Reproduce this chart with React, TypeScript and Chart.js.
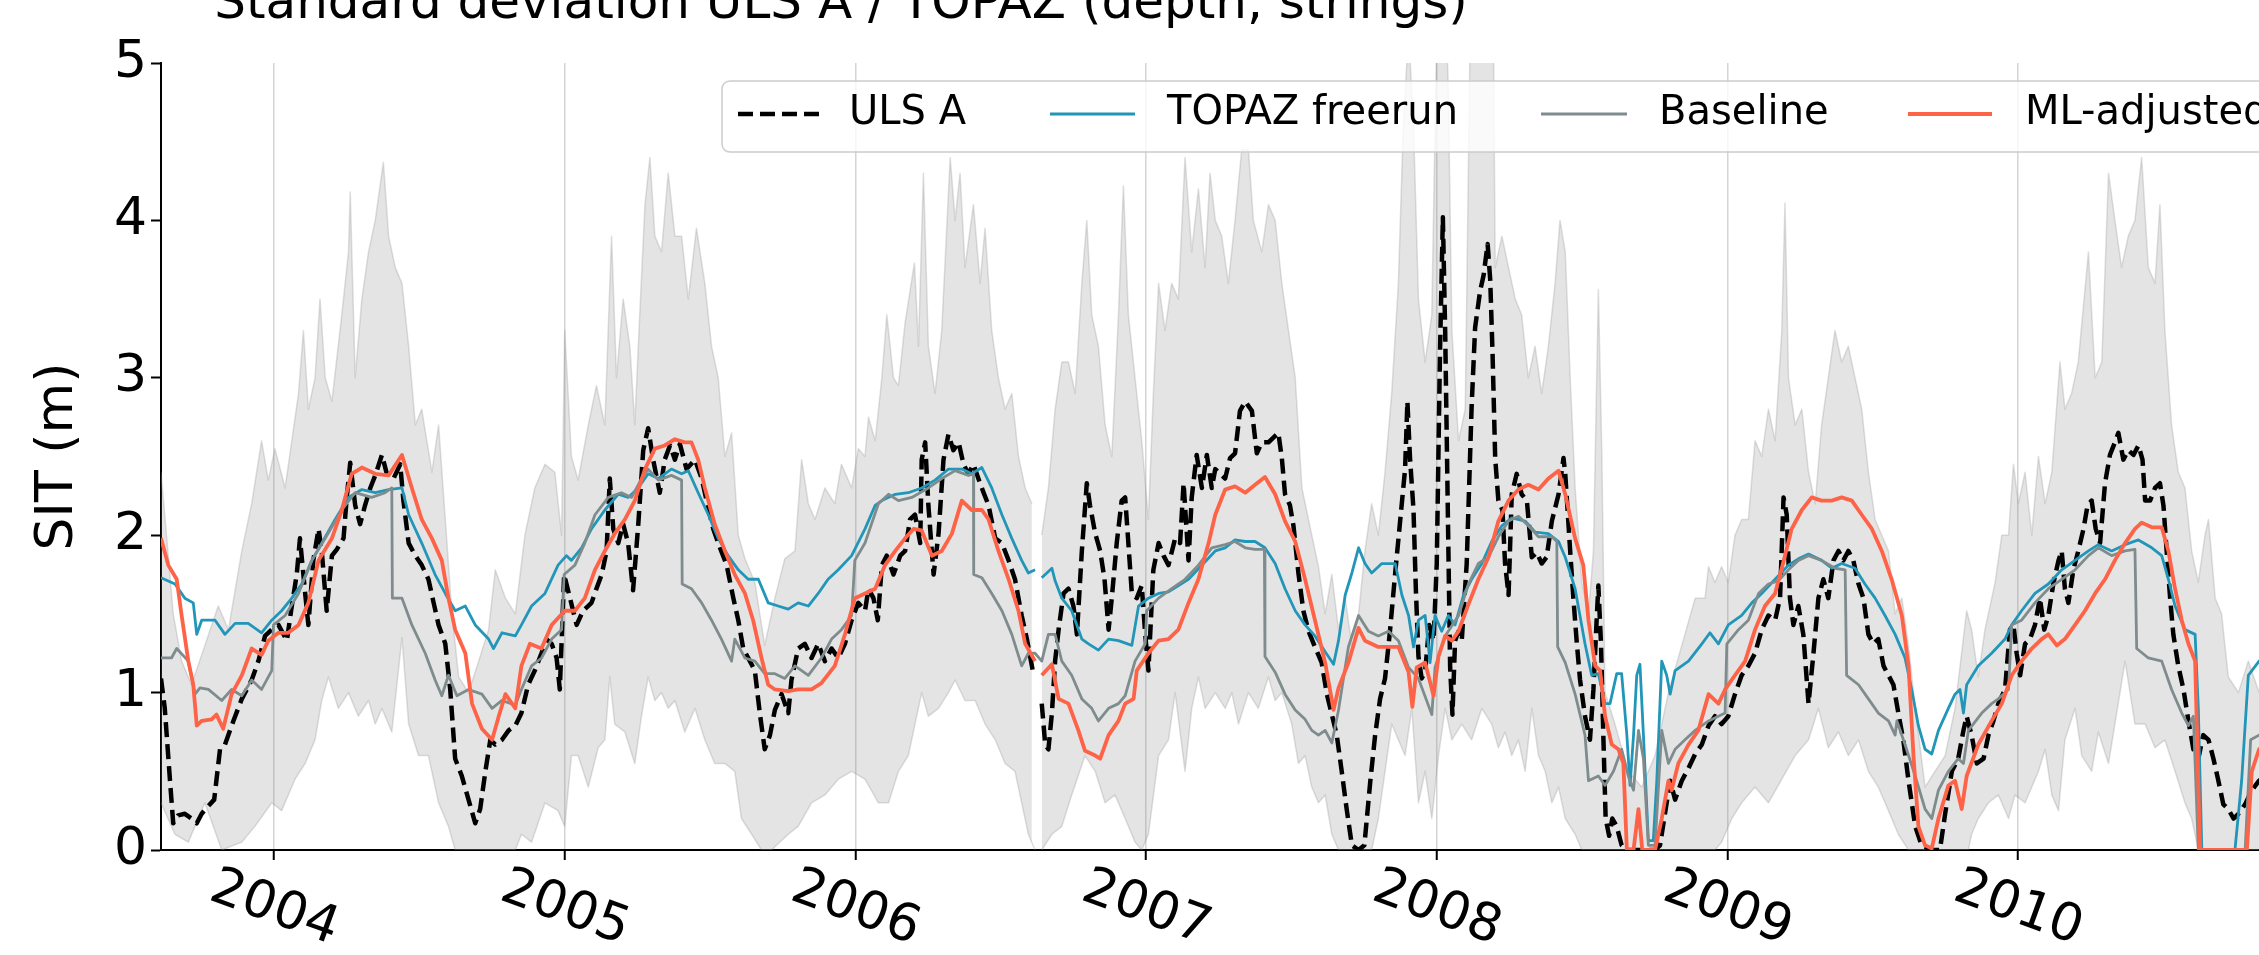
import React, { useEffect, useRef } from "react";
import { Chart, registerables } from "chart.js";

Chart.register(...registerables);

const FONT = "'DejaVu Sans', 'Liberation Sans', sans-serif";

const yearTicks = [2004, 2005, 2006, 2007, 2008, 2009, 2010];
const yTicks = [0, 1, 2, 3, 4, 5];
const legendLabels = ["ULS A", "TOPAZ freerun", "Baseline", "ML-adjusted"];
const titleText = "Standard deviation ULS A / TOPAZ (depth, strings)";

type P = [number, number | null];

const ulsA: P[] = [
  [2003.611,1.09],[2003.624,0.90],[2003.642,0.44],[2003.653,0.17],[2003.670,0.22],[2003.693,0.23],[2003.716,0.20],[2003.734,0.17],[2003.751,0.23],[2003.774,0.28],[2003.794,0.32],[2003.814,0.64],[2003.831,0.67],[2003.860,0.82],[2003.889,0.96],[2003.923,1.08],[2003.946,1.20],[2003.969,1.36],[2003.992,1.40],[2004.015,1.43],[2004.044,1.33],[2004.061,1.55],[2004.078,1.75],[2004.089,1.98],[2004.107,1.63],[2004.118,1.43],[2004.135,1.84],[2004.153,2.04],[2004.164,1.90],[2004.181,1.52],[2004.199,1.87],[2004.216,1.91],[2004.239,1.98],[2004.250,2.24],[2004.262,2.46],[2004.279,2.19],[2004.296,2.07],[2004.313,2.19],[2004.331,2.30],[2004.348,2.38],[2004.371,2.51],[2004.388,2.39],[2004.411,2.36],[2004.434,2.45],[2004.445,2.22],[2004.463,1.95],[2004.486,1.87],[2004.508,1.81],[2004.531,1.72],[2004.549,1.57],[2004.566,1.43],[2004.589,1.31],[2004.606,1.02],[2004.623,0.58],[2004.646,0.47],[2004.669,0.32],[2004.692,0.17],[2004.709,0.26],[2004.727,0.50],[2004.744,0.70],[2004.761,0.67],[2004.784,0.70],[2004.807,0.76],[2004.830,0.79],
  [2004.851,0.87],[2004.874,1.05],[2004.897,1.14],[2004.920,1.25],[2004.937,1.34],[2004.955,1.31],[2004.972,1.22],[2004.983,1.02],[2004.998,1.75],[2005.018,1.60],[2005.041,1.43],[2005.063,1.52],[2005.092,1.57],[2005.109,1.66],[2005.127,1.75],[2005.144,1.90],[2005.155,2.36],[2005.167,2.04],[2005.184,1.95],[2005.201,2.07],[2005.218,1.95],[2005.235,1.65],[2005.253,2.07],[2005.270,2.54],[2005.287,2.68],[2005.304,2.48],[2005.327,2.27],[2005.344,2.48],[2005.362,2.57],[2005.379,2.48],[2005.396,2.58],[2005.419,2.42],[2005.448,2.48],[2005.471,2.36],[2005.488,2.22],[2005.511,2.04],[2005.534,1.92],[2005.557,1.81],[2005.580,1.60],[2005.597,1.46],[2005.614,1.28],[2005.637,1.20],[2005.654,1.14],[2005.671,0.87],[2005.688,0.64],[2005.706,0.73],[2005.723,0.89],[2005.746,0.99],[2005.769,0.87],[2005.780,1.08],[2005.803,1.28],[2005.826,1.31],[2005.849,1.22],[2005.872,1.31],[2005.895,1.20],[2005.918,1.28],[2005.941,1.22],[2005.964,1.31],[2005.987,1.46],[2006.010,1.57],[2006.033,1.52],
  [2006.045,1.66],[2006.062,1.60],[2006.077,1.46],[2006.091,1.81],[2006.108,1.87],[2006.131,1.75],[2006.154,1.87],[2006.171,1.90],[2006.188,2.10],[2006.205,2.13],[2006.223,1.95],[2006.228,2.48],[2006.240,2.59],[2006.251,2.19],[2006.269,1.75],[2006.286,2.01],[2006.303,2.48],[2006.320,2.64],[2006.337,2.54],[2006.355,2.59],[2006.372,2.45],[2006.389,2.39],[2006.406,2.45],[2006.423,2.36],[2006.441,2.27],[2006.458,2.19],[2006.481,1.98],[2006.504,1.95],[2006.527,1.84],[2006.549,1.72],[2006.572,1.49],[2006.590,1.34],[2006.613,1.11],[2006.630,null],[2006.641,0.93],[2006.653,0.67],[2006.664,0.64],[2006.676,0.87],[2006.687,1.20],[2006.699,1.40],[2006.716,1.63],[2006.733,1.66],[2006.750,1.55],[2006.762,1.37],[2006.779,1.90],[2006.796,2.33],[2006.807,2.19],[2006.825,2.01],[2006.842,1.90],[2006.857,1.72],[2006.871,1.40],[2006.882,1.60],[2006.899,1.95],[2006.916,2.22],[2006.928,2.24],[2006.939,1.95],[2006.951,1.63],[2006.968,1.60],[2006.985,1.68],[2006.997,1.37],[2007.008,1.14],[2007.025,1.78],[2007.043,1.95],[2007.060,1.87],[2007.077,1.81],[2007.100,1.98],[2007.117,1.95],[2007.129,2.33],[2007.146,1.84],[2007.157,2.24],[2007.174,2.51],[2007.192,2.30],[2007.209,2.51],[2007.226,2.30],[2007.238,2.42],
  [2007.255,2.39],[2007.272,2.36],[2007.289,2.49],[2007.306,2.52],[2007.323,2.79],[2007.341,2.85],[2007.364,2.79],[2007.381,2.52],[2007.398,2.59],[2007.421,2.59],[2007.438,2.62],[2007.455,2.65],[2007.467,2.49],[2007.478,2.26],[2007.495,2.19],[2007.507,2.06],[2007.524,1.76],[2007.541,1.52],[2007.559,1.39],[2007.581,1.29],[2007.604,1.19],[2007.622,0.99],[2007.639,0.86],[2007.656,0.73],[2007.673,0.50],[2007.690,0.26],[2007.708,0.03],[2007.731,0.00],[2007.751,0.03],[2007.771,0.43],[2007.788,0.73],[2007.805,0.96],[2007.822,1.09],[2007.839,1.39],[2007.857,1.76],[2007.874,2.09],[2007.891,2.42],[2007.899,2.85],[2007.908,2.49],[2007.920,2.16],[2007.928,1.66],[2007.937,1.23],[2007.948,1.09],[2007.960,1.13],[2007.974,1.43],[2007.989,1.33],[2008.000,1.82],[2008.011,3.15],[2008.021,4.02],[2008.029,3.29],[2008.038,2.16],[2008.046,1.16],[2008.054,0.86],[2008.063,1.33],[2008.075,1.39],[2008.086,1.33],[2008.103,1.82],[2008.120,2.82],[2008.132,3.32],[2008.149,3.55],[2008.161,3.65],[2008.175,3.85],[2008.184,3.62],[2008.192,3.15],[2008.201,2.49],[2008.212,2.22],[2008.226,2.16],[2008.235,1.82],[2008.247,1.62],[2008.258,2.26],[2008.275,2.39],[2008.292,2.26],[2008.310,2.22],[2008.327,1.86],[2008.344,1.89],[2008.361,1.82],[2008.378,1.86],[2008.396,2.09],[2008.419,2.26],[2008.436,2.49],[2008.442,2.39],
  [2008.459,1.90],[2008.470,1.60],[2008.482,1.31],[2008.493,1.08],[2008.510,0.85],[2008.527,0.70],[2008.539,1.02],[2008.550,1.46],[2008.556,1.68],[2008.565,1.31],[2008.573,0.73],[2008.581,0.20],[2008.593,0.09],[2008.604,0.20],[2008.619,0.15],[2008.636,0.03],[2008.654,0.00],[2008.751,0.00],[2008.768,0.03],[2008.785,0.23],[2008.803,0.44],[2008.820,0.32],[2008.843,0.44],[2008.866,0.52],[2008.889,0.61],[2008.912,0.67],[2008.935,0.79],[2008.957,0.85],[2008.980,0.80],[2009.003,0.85],[2009.026,0.99],[2009.049,1.11],[2009.072,1.17],[2009.095,1.25],[2009.118,1.40],[2009.141,1.49],[2009.164,1.46],[2009.181,1.60],[2009.193,2.24],[2009.204,2.13],[2009.215,1.60],[2009.227,1.43],[2009.244,1.55],[2009.261,1.37],[2009.279,0.93],[2009.296,1.25],[2009.313,1.60],[2009.330,1.72],[2009.347,1.60],[2009.365,1.84],[2009.382,1.90],[2009.399,1.84],[2009.416,1.90],[2009.433,1.84],[2009.451,1.69],[2009.468,1.60],[2009.485,1.37],[2009.502,1.31],[2009.519,1.34],[2009.537,1.17],[2009.554,1.11],[2009.571,1.05],[2009.588,0.87],[2009.605,0.70],[2009.623,0.44],[2009.646,0.15],
  [2009.668,0.03],[2009.703,0.00],[2009.731,0.00],[2009.749,0.23],[2009.772,0.50],[2009.794,0.58],[2009.812,0.76],[2009.823,0.85],[2009.840,0.73],[2009.858,0.55],[2009.881,0.58],[2009.898,0.73],[2009.915,0.82],[2009.932,0.93],[2009.955,1.02],[2009.972,1.40],[2009.984,1.43],[2009.995,1.25],[2010.007,1.11],[2010.024,1.31],[2010.041,1.34],[2010.058,1.43],[2010.075,1.60],[2010.090,1.40],[2010.104,1.49],[2010.121,1.69],[2010.139,1.84],[2010.150,1.90],[2010.161,1.66],[2010.173,1.57],[2010.190,1.78],[2010.207,1.90],[2010.225,2.04],[2010.239,2.19],[2010.253,2.22],[2010.267,2.04],[2010.282,1.95],[2010.299,2.33],[2010.316,2.51],[2010.333,2.59],[2010.345,2.65],[2010.362,2.48],[2010.379,2.54],[2010.397,2.51],[2010.414,2.57],[2010.428,2.48],[2010.437,2.22],[2010.454,2.22],[2010.471,2.30],[2010.488,2.33],[2010.500,2.19],[2010.511,1.90],[2010.523,1.60],[2010.534,1.37],[2010.551,1.17],[2010.569,1.02],[2010.586,0.82],[2010.603,0.64],[2010.620,0.58],[2010.637,0.73],[2010.655,0.70],[2010.672,0.58],[2010.689,0.44],[2010.706,0.29],[2010.723,0.26],[2010.741,0.20],[2010.758,0.23],[2010.781,0.29],[2010.804,0.38],[2010.829,0.44],[2010.870,0.50],
];

const topazFreerun: P[] = [
  [2003.611,1.73],[2003.659,1.69],[2003.693,1.60],[2003.722,1.57],[2003.734,1.37],[2003.751,1.46],[2003.797,1.46],[2003.831,1.37],[2003.866,1.44],[2003.911,1.44],[2003.957,1.38],[2003.992,1.46],[2004.026,1.52],[2004.061,1.60],[2004.095,1.69],[2004.130,1.84],[2004.164,1.95],[2004.210,2.10],[2004.256,2.24],[2004.302,2.29],[2004.348,2.27],[2004.394,2.29],[2004.440,2.30],[2004.463,2.13],[2004.508,1.95],[2004.554,1.75],[2004.589,1.63],[2004.623,1.52],[2004.658,1.55],[2004.692,1.43],[2004.738,1.34],[2004.755,1.28],[2004.784,1.38],[2004.830,1.36],
  [2004.851,1.43],[2004.886,1.55],[2004.932,1.63],[2004.977,1.81],[2005.006,1.87],[2005.023,1.84],[2005.058,1.92],[2005.092,2.04],[2005.138,2.16],[2005.184,2.26],[2005.218,2.24],[2005.253,2.30],[2005.287,2.39],[2005.322,2.36],[2005.367,2.42],[2005.402,2.39],[2005.425,2.41],[2005.459,2.27],[2005.494,2.13],[2005.528,1.98],[2005.562,1.87],[2005.597,1.78],[2005.631,1.72],[2005.666,1.72],[2005.700,1.57],[2005.734,1.55],[2005.769,1.53],[2005.803,1.57],[2005.838,1.55],[2005.872,1.63],[2005.906,1.72],[2005.941,1.78],[2005.987,1.87],[2006.033,2.04],
  [2006.068,2.19],[2006.091,2.22],[2006.137,2.26],[2006.182,2.27],[2006.228,2.30],[2006.274,2.35],[2006.320,2.42],[2006.366,2.42],[2006.400,2.39],[2006.435,2.43],[2006.469,2.30],[2006.504,2.13],[2006.538,1.98],[2006.572,1.84],[2006.595,1.76],[2006.618,1.78],[2006.630,null],[2006.641,1.73],[2006.676,1.79],[2006.687,1.71],[2006.710,1.60],[2006.744,1.52],[2006.779,1.34],[2006.802,1.31],[2006.836,1.27],[2006.871,1.34],[2006.905,1.33],[2006.951,1.30],[2006.974,1.55],[2007.008,1.60],[2007.043,1.63],[2007.077,1.64],[2007.146,1.72],[2007.238,1.90],
  [2007.272,1.92],[2007.306,1.97],[2007.341,1.96],[2007.375,1.96],[2007.409,1.92],[2007.444,1.82],[2007.478,1.66],[2007.513,1.52],[2007.547,1.43],[2007.581,1.36],[2007.616,1.26],[2007.645,1.18],[2007.662,1.33],[2007.685,1.62],[2007.708,1.76],[2007.731,1.92],[2007.753,1.82],[2007.776,1.76],[2007.811,1.82],[2007.857,1.82],[2007.880,1.62],[2007.903,1.49],[2007.920,1.29],[2007.937,1.46],[2007.960,1.49],[2007.977,1.19],[2007.994,1.49],[2008.017,1.39],[2008.040,1.49],[2008.063,1.43],[2008.092,1.62],[2008.120,1.72],[2008.155,1.82],[2008.189,1.96],[2008.224,2.06],[2008.258,2.11],[2008.304,2.09],[2008.338,2.02],[2008.384,2.01],[2008.419,1.96],[2008.442,1.86],
  [2008.476,1.66],[2008.510,1.31],[2008.533,1.11],[2008.556,1.12],[2008.579,0.93],[2008.596,0.93],[2008.619,1.12],[2008.636,1.12],[2008.654,0.73],[2008.665,0.41],[2008.677,0.73],[2008.688,1.11],[2008.699,1.18],[2008.711,0.73],[2008.728,0.06],[2008.745,0.06],[2008.757,0.44],[2008.774,1.20],[2008.791,1.11],[2008.803,0.99],[2008.820,1.14],[2008.866,1.20],[2008.912,1.31],[2008.940,1.38],[2008.969,1.31],[2009.003,1.43],[2009.049,1.49],[2009.084,1.57],[2009.118,1.63],[2009.164,1.72],[2009.210,1.81],[2009.244,1.85],[2009.279,1.88],[2009.324,1.84],[2009.359,1.79],[2009.393,1.82],[2009.439,1.79],[2009.473,1.69],[2009.508,1.60],[2009.542,1.49],[2009.577,1.37],[2009.611,1.22],[2009.634,1.02],[2009.657,0.79],
  [2009.680,0.64],[2009.703,0.61],[2009.726,0.76],[2009.760,0.90],[2009.783,0.99],[2009.800,1.02],[2009.812,0.87],[2009.823,1.05],[2009.863,1.17],[2009.909,1.25],[2009.955,1.34],[2009.978,1.43],[2010.012,1.52],[2010.058,1.63],[2010.104,1.69],[2010.150,1.78],[2010.196,1.84],[2010.242,1.90],[2010.276,1.94],[2010.322,1.90],[2010.368,1.94],[2010.414,1.97],[2010.460,1.92],[2010.494,1.87],[2010.517,1.72],[2010.540,1.55],[2010.574,1.40],[2010.609,1.37],[2010.620,0.90],[2010.632,0.00],[2010.746,0.00],[2010.769,0.44],[2010.792,1.11],[2010.829,1.20],[2010.870,1.25],
];

const baseline: P[] = [
  [2003.611,1.22],[2003.647,1.22],[2003.665,1.28],[2003.705,1.20],[2003.728,0.99],[2003.745,1.03],[2003.774,1.02],[2003.820,0.95],[2003.854,1.02],[2003.889,0.98],[2003.923,1.08],[2003.957,1.02],[2003.992,1.14],[2003.998,1.43],[2004.038,1.49],[2004.084,1.63],[2004.130,1.84],[2004.176,1.98],[2004.233,2.16],[2004.279,2.27],[2004.336,2.24],[2004.382,2.27],[2004.405,2.30],[2004.407,1.60],[2004.440,1.60],[2004.474,1.43],[2004.520,1.25],[2004.554,1.08],[2004.577,0.98],[2004.600,1.11],[2004.629,0.98],[2004.669,1.02],[2004.715,0.99],[2004.750,0.90],[2004.784,0.95],[2004.830,0.92],
  [2004.851,1.02],[2004.886,1.17],[2004.920,1.22],[2004.955,1.34],[2004.989,1.40],[2004.998,1.75],[2005.035,1.81],[2005.069,1.95],[2005.104,2.13],[2005.150,2.24],[2005.195,2.27],[2005.230,2.24],[2005.264,2.36],[2005.287,2.42],[2005.322,2.35],[2005.367,2.38],[2005.402,2.35],[2005.404,1.69],[2005.436,1.66],[2005.471,1.57],[2005.505,1.46],[2005.539,1.34],[2005.574,1.20],[2005.585,1.34],[2005.620,1.22],[2005.654,1.20],[2005.688,1.12],[2005.723,1.12],[2005.757,1.09],[2005.792,1.17],[2005.838,1.11],[2005.883,1.22],[2005.918,1.34],[2005.952,1.40],[2005.987,1.49],[2005.998,1.84],[2006.033,1.95],
  [2006.079,2.20],[2006.114,2.26],[2006.148,2.22],[2006.194,2.24],[2006.251,2.30],[2006.297,2.36],[2006.343,2.41],[2006.389,2.38],[2006.406,2.39],[2006.407,1.75],[2006.435,1.73],[2006.469,1.63],[2006.504,1.52],[2006.538,1.37],[2006.572,1.17],[2006.595,1.25],[2006.618,1.25],[2006.641,1.20],[2006.664,1.37],[2006.687,1.37],[2006.710,1.20],[2006.744,1.11],[2006.779,0.96],[2006.813,0.90],[2006.836,0.82],[2006.871,0.90],[2006.905,0.93],[2006.928,0.98],[2006.962,1.20],[2006.997,1.31],[2007.002,1.52],[2007.043,1.60],[2007.088,1.66],[2007.134,1.72],[2007.180,1.81],[2007.226,1.92],
  [2007.272,1.94],[2007.306,1.96],[2007.341,1.92],[2007.375,1.91],[2007.407,1.91],[2007.409,1.23],[2007.444,1.13],[2007.478,0.99],[2007.513,0.89],[2007.547,0.83],[2007.570,0.76],[2007.593,0.73],[2007.616,0.76],[2007.639,0.68],[2007.662,0.89],[2007.696,1.29],[2007.731,1.49],[2007.765,1.39],[2007.799,1.36],[2007.834,1.39],[2007.868,1.33],[2007.903,1.16],[2007.937,1.09],[2007.983,0.86],[2007.994,1.16],[2008.029,1.36],[2008.075,1.49],[2008.109,1.69],[2008.143,1.82],[2008.178,1.86],[2008.212,1.99],[2008.247,2.09],[2008.281,2.12],[2008.315,2.06],[2008.350,1.99],[2008.396,1.99],[2008.413,1.96],[2008.416,1.29],[2008.442,1.19],
  [2008.476,0.99],[2008.510,0.73],[2008.522,0.44],[2008.556,0.47],[2008.579,0.41],[2008.608,0.50],[2008.636,0.64],[2008.659,0.47],[2008.677,0.38],[2008.694,0.76],[2008.711,0.58],[2008.728,0.03],[2008.751,0.03],[2008.774,0.76],[2008.797,0.55],[2008.820,0.64],[2008.854,0.70],[2008.889,0.76],[2008.935,0.82],[2008.992,0.87],[2008.998,1.31],[2009.038,1.40],[2009.072,1.46],[2009.107,1.63],[2009.141,1.69],[2009.175,1.71],[2009.210,1.78],[2009.244,1.84],[2009.279,1.87],[2009.324,1.84],[2009.370,1.79],[2009.405,1.78],[2009.410,1.11],[2009.451,1.05],[2009.485,0.96],[2009.519,0.87],[2009.554,0.82],[2009.577,0.73],[2009.583,0.82],[2009.611,0.67],[2009.646,0.47],
  [2009.680,0.26],[2009.703,0.20],[2009.726,0.38],[2009.760,0.50],[2009.794,0.58],[2009.812,0.55],[2009.829,0.76],[2009.875,0.87],[2009.909,0.93],[2009.932,0.96],[2009.967,1.02],[2009.978,1.43],[2010.012,1.46],[2010.058,1.57],[2010.104,1.66],[2010.150,1.72],[2010.196,1.78],[2010.242,1.87],[2010.276,1.92],[2010.322,1.87],[2010.368,1.90],[2010.402,1.91],[2010.408,1.28],[2010.448,1.22],[2010.494,1.20],[2010.528,1.02],[2010.563,0.87],[2010.586,0.79],[2010.603,0.85],[2010.620,0.00],[2010.781,0.00],[2010.800,0.70],[2010.829,0.73],[2010.870,0.75],
];

const mlAdjusted: P[] = [
  [2003.611,1.98],[2003.636,1.81],[2003.665,1.72],[2003.682,1.49],[2003.705,1.20],[2003.722,1.05],[2003.734,0.79],[2003.751,0.82],[2003.785,0.83],[2003.802,0.86],[2003.825,0.77],[2003.854,0.99],[2003.889,1.11],[2003.923,1.28],[2003.957,1.24],[2003.980,1.33],[2004.015,1.38],[2004.049,1.38],[2004.084,1.43],[2004.118,1.57],[2004.153,1.84],[2004.199,1.98],[2004.233,2.16],[2004.267,2.39],[2004.302,2.43],[2004.348,2.39],[2004.394,2.38],[2004.440,2.51],[2004.474,2.30],[2004.508,2.10],[2004.543,1.98],[2004.577,1.84],[2004.600,1.60],[2004.623,1.40],[2004.658,1.25],[2004.681,0.93],[2004.715,0.77],[2004.750,0.70],[2004.773,0.85],[2004.796,0.99],[2004.830,0.90],
  [2004.851,1.17],[2004.880,1.31],[2004.920,1.28],[2004.955,1.43],[2005.000,1.52],[2005.035,1.52],[2005.069,1.60],[2005.104,1.78],[2005.138,1.90],[2005.172,2.01],[2005.207,2.10],[2005.241,2.22],[2005.276,2.42],[2005.310,2.55],[2005.344,2.57],[2005.379,2.61],[2005.413,2.59],[2005.436,2.59],[2005.459,2.48],[2005.482,2.30],[2005.516,2.07],[2005.551,1.90],[2005.585,1.75],[2005.620,1.63],[2005.648,1.46],[2005.677,1.22],[2005.700,1.05],[2005.723,1.02],[2005.769,1.01],[2005.803,1.02],[2005.849,1.02],[2005.883,1.06],[2005.929,1.17],[2005.964,1.37],[2005.998,1.60],[2006.033,1.63],
  [2006.068,1.66],[2006.102,1.81],[2006.137,1.90],[2006.171,1.98],[2006.200,2.04],[2006.228,2.03],[2006.263,1.87],[2006.297,1.90],[2006.332,2.01],[2006.366,2.22],[2006.400,2.16],[2006.435,2.16],[2006.458,2.10],[2006.492,1.90],[2006.527,1.72],[2006.561,1.52],[2006.584,1.31],[2006.618,1.20],[2006.630,null],[2006.641,1.11],[2006.676,1.18],[2006.699,0.96],[2006.733,0.93],[2006.767,0.76],[2006.790,0.63],[2006.825,0.60],[2006.842,0.58],[2006.871,0.73],[2006.905,0.82],[2006.928,0.93],[2006.957,0.96],[2006.968,1.14],[2007.008,1.25],[2007.043,1.33],[2007.077,1.34],[2007.111,1.40],[2007.146,1.57],[2007.180,1.72],[2007.215,1.95],[2007.238,2.13],
  [2007.272,2.29],[2007.306,2.31],[2007.341,2.27],[2007.375,2.32],[2007.409,2.37],[2007.444,2.26],[2007.478,2.09],[2007.513,1.96],[2007.547,1.72],[2007.581,1.46],[2007.616,1.19],[2007.645,0.89],[2007.662,1.03],[2007.696,1.19],[2007.731,1.41],[2007.753,1.33],[2007.799,1.29],[2007.845,1.29],[2007.868,1.29],[2007.903,1.13],[2007.916,0.91],[2007.931,1.16],[2007.960,1.19],[2007.989,0.98],[2008.006,1.23],[2008.029,1.36],[2008.052,1.33],[2008.075,1.39],[2008.109,1.56],[2008.143,1.72],[2008.178,1.86],[2008.212,2.09],[2008.247,2.22],[2008.281,2.29],[2008.315,2.32],[2008.350,2.29],[2008.384,2.36],[2008.419,2.41],[2008.442,2.26],
  [2008.476,1.98],[2008.504,1.81],[2008.522,1.46],[2008.545,1.17],[2008.562,1.14],[2008.579,0.85],[2008.602,0.67],[2008.625,0.64],[2008.642,0.55],[2008.654,0.00],[2008.677,0.00],[2008.694,0.26],[2008.707,0.00],[2008.751,0.00],[2008.774,0.20],[2008.797,0.44],[2008.808,0.38],[2008.831,0.55],[2008.866,0.67],[2008.900,0.76],[2008.935,0.99],[2008.969,0.93],[2008.992,1.02],[2009.026,1.11],[2009.061,1.20],[2009.095,1.40],[2009.129,1.55],[2009.164,1.63],[2009.198,1.87],[2009.221,2.04],[2009.256,2.16],[2009.290,2.24],[2009.324,2.22],[2009.359,2.22],[2009.393,2.24],[2009.428,2.22],[2009.462,2.13],[2009.497,2.04],[2009.531,1.90],[2009.565,1.72],[2009.600,1.49],[2009.623,1.17],[2009.640,0.60],[2009.657,0.15],
  [2009.680,0.03],[2009.703,0.01],[2009.726,0.20],[2009.760,0.41],[2009.783,0.44],[2009.806,0.26],[2009.823,0.47],[2009.863,0.67],[2009.909,0.82],[2009.944,0.93],[2009.978,1.11],[2010.012,1.20],[2010.047,1.28],[2010.081,1.34],[2010.104,1.37],[2010.133,1.30],[2010.161,1.34],[2010.196,1.43],[2010.230,1.52],[2010.265,1.63],[2010.299,1.72],[2010.333,1.84],[2010.368,1.95],[2010.402,2.04],[2010.425,2.08],[2010.460,2.05],[2010.494,2.05],[2010.517,1.90],[2010.540,1.66],[2010.563,1.46],[2010.586,1.31],[2010.609,1.20],[2010.626,0.00],[2010.787,0.00],[2010.804,0.50],[2010.829,0.64],[2010.870,0.70],
];

const spreadUpper: P[] = [
  [2003.611,2.40],[2003.630,2.00],[2003.653,1.50],[2003.682,1.20],[2003.716,1.05],[2003.762,1.30],[2003.808,1.55],[2003.843,1.40],[2003.889,1.90],[2003.923,2.20],[2003.957,2.60],[2003.980,2.35],[2004.003,2.55],[2004.038,2.30],[2004.061,2.60],[2004.084,2.90],[2004.101,3.30],[2004.118,2.80],[2004.141,3.00],[2004.158,3.50],[2004.176,3.00],[2004.199,2.85],[2004.233,3.40],[2004.256,3.80],[2004.262,4.18],[2004.279,3.00],[2004.302,3.50],[2004.325,3.80],[2004.348,4.00],[2004.376,4.37],[2004.394,3.90],[2004.417,3.70],[2004.440,3.60],[2004.463,3.20],[2004.486,2.70],[2004.508,2.80],[2004.543,2.40],[2004.566,2.70],[2004.589,2.10],[2004.612,1.50],[2004.635,1.10],[2004.669,1.00],[2004.704,1.20],[2004.738,1.40],[2004.761,1.78],[2004.796,1.60],[2004.830,1.50],
  [2004.863,2.00],[2004.897,2.30],[2004.932,2.45],[2004.966,2.40],[2004.989,2.00],[2005.000,3.30],[2005.023,2.50],[2005.046,2.35],[2005.081,2.70],[2005.109,2.95],[2005.138,2.70],[2005.161,3.90],[2005.178,3.00],[2005.201,3.50],[2005.224,3.20],[2005.241,2.70],[2005.258,3.40],[2005.276,4.10],[2005.293,4.40],[2005.310,3.90],[2005.333,3.80],[2005.356,4.30],[2005.379,3.90],[2005.402,3.90],[2005.425,3.50],[2005.453,3.95],[2005.482,3.60],[2005.505,3.20],[2005.528,3.00],[2005.551,2.50],[2005.574,2.65],[2005.597,2.00],[2005.620,1.85],[2005.654,1.70],[2005.688,1.30],[2005.723,1.60],[2005.757,1.85],[2005.792,1.90],[2005.815,2.48],[2005.838,2.20],[2005.861,2.10],[2005.895,2.30],[2005.929,2.20],[2005.952,2.45],[2005.987,2.30],[2006.010,2.55],[2006.033,2.50],
  [2006.045,2.75],[2006.068,2.60],[2006.091,3.00],[2006.108,3.40],[2006.131,3.00],[2006.148,2.95],[2006.171,3.35],[2006.203,3.73],[2006.217,3.20],[2006.234,4.30],[2006.251,3.20],[2006.274,2.90],[2006.297,3.30],[2006.326,4.40],[2006.343,4.00],[2006.360,4.30],[2006.377,3.70],[2006.406,4.10],[2006.429,3.60],[2006.446,3.95],[2006.469,3.30],[2006.492,3.00],[2006.515,2.80],[2006.538,2.90],[2006.561,2.50],[2006.584,2.30],[2006.607,2.20],[2006.630,null],[2006.641,2.00],[2006.664,2.30],[2006.687,2.80],[2006.710,3.10],[2006.733,3.10],[2006.756,2.90],[2006.779,3.60],[2006.796,4.00],[2006.813,3.40],[2006.836,3.20],[2006.859,2.70],[2006.882,2.50],[2006.905,3.40],[2006.922,4.22],[2006.939,3.40],[2006.962,3.00],[2006.985,2.60],[2007.008,2.10],[2007.025,2.90],[2007.043,3.60],[2007.065,3.30],[2007.088,3.60],[2007.111,3.50],[2007.134,4.40],[2007.157,3.80],[2007.180,4.20],[2007.203,3.70],[2007.220,4.30],[2007.238,4.00],
  [2007.260,3.90],[2007.283,3.60],[2007.306,4.00],[2007.329,4.45],[2007.352,4.45],[2007.369,4.00],[2007.398,3.80],[2007.421,4.10],[2007.444,4.00],[2007.467,3.60],[2007.490,3.30],[2007.513,3.00],[2007.536,2.30],[2007.570,2.00],[2007.593,1.80],[2007.616,1.50],[2007.639,1.75],[2007.662,1.40],[2007.685,1.60],[2007.708,1.30],[2007.731,1.50],[2007.753,1.90],[2007.776,2.20],[2007.799,2.00],[2007.822,2.40],[2007.845,2.90],[2007.868,3.60],[2007.885,4.60],[2007.903,5.20],[2007.920,4.60],[2007.937,3.50],[2007.960,3.10],[2007.983,3.40],[2008.000,5.20],[2008.034,5.20],[2008.040,4.80],[2008.052,3.30],[2008.075,2.60],[2008.098,2.80],[2008.115,5.20],[2008.195,5.20],[2008.201,3.70],[2008.224,3.90],[2008.247,3.70],[2008.270,3.50],[2008.292,3.40],[2008.315,3.00],[2008.338,3.20],[2008.361,2.90],[2008.384,3.20],[2008.407,3.60],[2008.424,4.00],[2008.442,3.80],
  [2008.459,3.00],[2008.476,2.30],[2008.499,1.70],[2008.522,1.50],[2008.539,1.90],[2008.556,3.56],[2008.568,2.50],[2008.579,1.00],[2008.613,0.80],[2008.659,0.50],[2008.705,0.40],[2008.751,0.60],[2008.797,1.00],[2008.843,1.30],[2008.889,1.60],[2008.923,1.60],[2008.935,1.80],[2008.957,1.70],[2008.980,1.80],[2009.003,1.70],[2009.026,2.00],[2009.049,2.10],[2009.072,2.10],[2009.095,2.60],[2009.118,2.50],[2009.141,2.80],[2009.164,2.60],[2009.187,3.30],[2009.198,4.11],[2009.210,3.00],[2009.233,2.70],[2009.256,2.80],[2009.279,2.40],[2009.302,2.20],[2009.324,2.70],[2009.347,3.00],[2009.370,3.30],[2009.393,3.10],[2009.416,3.20],[2009.439,3.00],[2009.462,2.80],[2009.485,2.40],[2009.508,2.10],[2009.531,2.00],[2009.554,1.90],[2009.577,1.50],[2009.600,1.60],[2009.623,1.30],[2009.646,0.90],
  [2009.680,0.40],[2009.714,0.50],[2009.749,0.60],[2009.783,0.90],[2009.823,1.52],[2009.840,1.40],[2009.863,1.10],[2009.886,1.40],[2009.921,1.70],[2009.944,2.00],[2009.967,2.00],[2009.984,2.45],[2010.001,2.20],[2010.024,2.40],[2010.047,2.00],[2010.070,2.50],[2010.093,2.20],[2010.116,2.40],[2010.144,3.10],[2010.161,2.80],[2010.184,2.90],[2010.207,3.10],[2010.242,3.80],[2010.265,3.00],[2010.288,3.10],[2010.311,4.30],[2010.333,4.00],[2010.356,3.70],[2010.379,3.90],[2010.402,4.00],[2010.425,4.40],[2010.448,3.70],[2010.471,3.60],[2010.488,4.10],[2010.505,3.30],[2010.528,2.70],[2010.551,2.40],[2010.574,2.30],[2010.597,1.90],[2010.620,1.70],[2010.643,2.00],[2010.655,2.10],[2010.678,1.60],[2010.700,1.50],[2010.723,1.10],[2010.758,1.00],[2010.792,1.20],[2010.829,1.00],[2010.870,1.10],
];

const spreadLower: P[] = [
  [2003.611,0.30],[2003.659,0.10],[2003.705,0.05],[2003.762,0.30],[2003.820,0.00],[2003.889,0.05],[2003.934,0.15],[2003.992,0.30],[2004.026,0.25],[2004.072,0.45],[2004.107,0.55],[2004.141,0.70],[2004.164,0.95],[2004.187,1.10],[2004.221,0.90],[2004.256,1.00],[2004.290,0.85],[2004.325,0.95],[2004.348,0.80],[2004.371,0.90],[2004.405,0.75],[2004.440,1.35],[2004.463,0.80],[2004.497,0.60],[2004.531,0.60],[2004.566,0.30],[2004.600,0.15],[2004.623,0.00],[2004.830,0.00],
  [2004.851,0.10],[2004.886,0.05],[2004.932,0.30],[2004.977,0.25],[2005.000,0.15],[2005.023,0.60],[2005.046,0.60],[2005.081,0.40],[2005.115,0.65],[2005.138,0.70],[2005.155,1.10],[2005.172,0.80],[2005.207,0.75],[2005.241,0.55],[2005.264,0.85],[2005.287,1.10],[2005.310,0.95],[2005.333,1.00],[2005.356,0.90],[2005.379,0.95],[2005.413,0.75],[2005.448,0.90],[2005.482,0.70],[2005.516,0.55],[2005.551,0.55],[2005.585,0.50],[2005.608,0.20],[2005.643,0.10],[2005.677,0.00],[2005.711,0.00],[2005.769,0.10],[2005.803,0.15],[2005.849,0.30],[2005.895,0.35],[2005.941,0.45],[2005.987,0.50],[2006.033,0.45],
  [2006.079,0.30],[2006.114,0.30],[2006.148,0.50],[2006.182,0.60],[2006.228,1.00],[2006.251,0.85],[2006.286,0.90],[2006.320,1.00],[2006.343,1.08],[2006.377,0.95],[2006.412,0.95],[2006.446,0.80],[2006.481,0.70],[2006.515,0.55],[2006.549,0.50],[2006.572,0.30],[2006.595,0.10],[2006.618,0.00],[2006.630,null],[2006.641,0.00],[2006.676,0.10],[2006.710,0.15],[2006.744,0.35],[2006.790,0.60],[2006.825,0.50],[2006.859,0.30],[2006.893,0.35],[2006.928,0.20],[2006.962,0.05],[2006.985,0.00],[2007.008,0.10],[2007.043,0.60],[2007.077,0.70],[2007.100,1.00],[2007.134,0.50],[2007.157,0.90],[2007.180,1.10],[2007.203,0.90],[2007.238,1.00],
  [2007.272,0.90],[2007.295,1.00],[2007.318,0.80],[2007.352,1.00],[2007.386,0.90],[2007.421,1.10],[2007.444,0.95],[2007.467,1.00],[2007.501,0.80],[2007.524,0.55],[2007.547,0.60],[2007.570,0.40],[2007.593,0.30],[2007.616,0.35],[2007.639,0.10],[2007.662,0.00],[2007.776,0.00],[2007.799,0.20],[2007.822,0.50],[2007.845,0.80],[2007.868,0.70],[2007.891,0.60],[2007.914,0.90],[2007.937,0.30],[2007.960,0.50],[2007.983,0.20],[2008.006,0.60],[2008.029,0.90],[2008.052,0.70],[2008.086,0.80],[2008.120,0.70],[2008.155,0.90],[2008.189,0.80],[2008.212,0.65],[2008.235,0.75],[2008.258,0.60],[2008.281,0.70],[2008.304,0.50],[2008.327,0.90],[2008.350,0.60],[2008.373,0.50],[2008.396,0.30],[2008.419,0.40],[2008.442,0.20],
  [2008.476,0.10],[2008.499,0.00],[2008.957,0.00],[2008.980,0.05],[2009.015,0.20],[2009.049,0.30],[2009.095,0.40],[2009.141,0.30],[2009.187,0.45],[2009.233,0.60],[2009.279,0.70],[2009.313,0.90],[2009.347,0.65],[2009.382,0.75],[2009.416,0.60],[2009.451,0.70],[2009.485,0.50],[2009.519,0.40],[2009.554,0.25],[2009.588,0.10],[2009.623,0.00],
  [2009.829,0.00],[2009.840,0.10],[2009.863,0.20],[2009.898,0.30],[2009.932,0.35],[2009.967,0.20],[2009.989,0.35],[2010.024,0.30],[2010.070,0.50],[2010.093,0.64],[2010.116,0.35],[2010.139,0.25],[2010.161,0.70],[2010.196,0.90],[2010.219,0.60],[2010.253,0.50],[2010.276,0.75],[2010.311,0.55],[2010.333,0.80],[2010.368,1.20],[2010.402,0.80],[2010.437,0.80],[2010.471,0.65],[2010.505,0.70],[2010.540,0.50],[2010.574,0.30],[2010.597,0.20],[2010.620,0.00],[2010.870,0.00],
];

const COLORS = {
  uls: "#000000",
  topaz: "#2196b8",
  base: "#7f8c8d",
  ml: "#ff6347",
};

const X_MIN = 2003.611;
const X_MAX = 2010.987;

const toXY = (arr: P[]) => arr.map(([x, y]) => ({ x, y }));

function roundRectPath(ctx: CanvasRenderingContext2D, x: number, y: number, w: number, h: number, r: number) {
  ctx.beginPath();
  ctx.moveTo(x + r, y);
  ctx.lineTo(x + w - r, y);
  ctx.arcTo(x + w, y, x + w, y + r, r);
  ctx.lineTo(x + w, y + h - r);
  ctx.arcTo(x + w, y + h, x + w - r, y + h, r);
  ctx.lineTo(x + r, y + h);
  ctx.arcTo(x, y + h, x, y + h - r, r);
  ctx.lineTo(x, y + r);
  ctx.arcTo(x, y, x + r, y, r);
  ctx.closePath();
}

const overlayPlugin = {
  id: "overlay",
  afterDraw(chart: any) {
    const ctx: CanvasRenderingContext2D = chart.ctx;
    const xs = chart.scales.x;
    ctx.save();
    // rotated year labels
    ctx.fillStyle = "#000";
    ctx.font = `52px ${FONT}`;
    ctx.textAlign = "center";
    ctx.textBaseline = "middle";
    yearTicks.forEach((yr) => {
      const px = xs.getPixelForValue(yr);
      ctx.save();
      ctx.translate(px, 909);
      ctx.rotate((20 * Math.PI) / 180);
      ctx.fillText(String(yr), 0, 0);
      ctx.restore();
    });
    // title (cut off at top of the picture)
    ctx.font = `50px ${FONT}`;
    ctx.textBaseline = "alphabetic";
    ctx.fillText(titleText, 841, 18);
    // legend
    roundRectPath(ctx, 722, 81, 1563, 71, 8);
    ctx.fillStyle = "rgba(255,255,255,0.8)";
    ctx.fill();
    ctx.strokeStyle = "#cccccc";
    ctx.lineWidth = 1.5;
    ctx.stroke();
    const items = [
      { x0: 738, x1: 819, tx: 849, color: COLORS.uls, w: 4.5, dash: [15, 7] },
      { x0: 1050, x1: 1135, tx: 1167, color: COLORS.topaz, w: 3, dash: [] },
      { x0: 1541, x1: 1627, tx: 1659, color: COLORS.base, w: 3, dash: [] },
      { x0: 1908, x1: 1992, tx: 2025, color: COLORS.ml, w: 4, dash: [] },
    ];
    const ly = 114;
    items.forEach((it, i) => {
      ctx.beginPath();
      ctx.setLineDash(it.dash);
      ctx.strokeStyle = it.color;
      ctx.lineWidth = it.w;
      ctx.moveTo(it.x0, ly);
      ctx.lineTo(it.x1, ly);
      ctx.stroke();
      ctx.setLineDash([]);
      ctx.fillStyle = "#000";
      ctx.font = `40px ${FONT}`;
      ctx.textAlign = "left";
      ctx.textBaseline = "middle";
      ctx.fillText(legendLabels[i], it.tx, ly);
    });
    ctx.restore();
  },
};

export default function App() {
  const ref = useRef<HTMLCanvasElement | null>(null);
  useEffect(() => {
    const canvas = ref.current;
    if (!canvas) return;
    const lineBase = { pointRadius: 0, pointHoverRadius: 0, tension: 0, fill: false, spanGaps: false, borderJoinStyle: "round" as const };
    const chart = new Chart(canvas, {
      type: "line",
      data: {
        datasets: [
          { ...lineBase, label: legendLabels[3], data: toXY(mlAdjusted), borderColor: COLORS.ml, borderWidth: 3.8 },
          { ...lineBase, label: legendLabels[2], data: toXY(baseline), borderColor: COLORS.base, borderWidth: 2.8 },
          { ...lineBase, label: legendLabels[1], data: toXY(topazFreerun), borderColor: COLORS.topaz, borderWidth: 2.8 },
          { ...lineBase, label: legendLabels[0], data: toXY(ulsA), borderColor: COLORS.uls, borderWidth: 4.5, borderDash: [15, 7] },
          { ...lineBase, label: "spread-upper", data: toXY(spreadUpper), borderColor: "rgba(150,150,150,0.3)", borderWidth: 1.5, backgroundColor: "rgba(128,128,128,0.21)", fill: "+1" },
          { ...lineBase, label: "spread-lower", data: toXY(spreadLower), borderColor: "rgba(150,150,150,0.3)", borderWidth: 1.5 },
        ] as any,
      },
      options: {
        responsive: false,
        animation: false,
        devicePixelRatio: 1,
        events: [],
        layout: { padding: { top: 63, left: 0, right: 35, bottom: 0 }, autoPadding: false } as any,
        plugins: { legend: { display: false }, tooltip: { enabled: false }, title: { display: false } },
        scales: {
          x: {
            type: "linear",
            min: X_MIN,
            max: X_MAX,
            afterBuildTicks: (s: any) => { s.ticks = yearTicks.map((v) => ({ value: v })); },
            afterFit: (s: any) => { s.height = 105; },
            ticks: { display: false },
            grid: { display: true, drawOnChartArea: true, color: "rgba(176,176,176,0.55)", lineWidth: 1.5, drawTicks: true, tickLength: 10, tickWidth: 2, tickColor: "#000" },
            border: { display: true, color: "#000", width: 2 },
          },
          y: {
            type: "linear",
            min: 0,
            max: 5,
            afterBuildTicks: (s: any) => { s.ticks = yTicks.map((v) => ({ value: v })); },
            afterFit: (s: any) => { s.width = 161; },
            ticks: { font: { family: FONT, size: 52 }, color: "#000", padding: 4, autoSkip: false },
            grid: { display: true, drawOnChartArea: false, drawTicks: true, tickLength: 10, tickWidth: 2, tickColor: "#000" },
            border: { display: true, color: "#000", width: 2 },
            title: { display: true, text: "SIT (m)", font: { family: FONT, size: 52 }, color: "#000", padding: { top: 27, bottom: 0 } },
          },
        } as any,
      },
      plugins: [overlayPlugin],
    });
    return () => chart.destroy();
  }, []);
  return (
    <div style={{ position: "fixed", left: 0, top: 0, width: 2259, height: 955, overflow: "hidden", background: "#fff" }}>
      <canvas ref={ref} width={2340} height={955} style={{ position: "absolute", left: 0, top: 0, width: 2340, height: 955 }} />
    </div>
  );
}
